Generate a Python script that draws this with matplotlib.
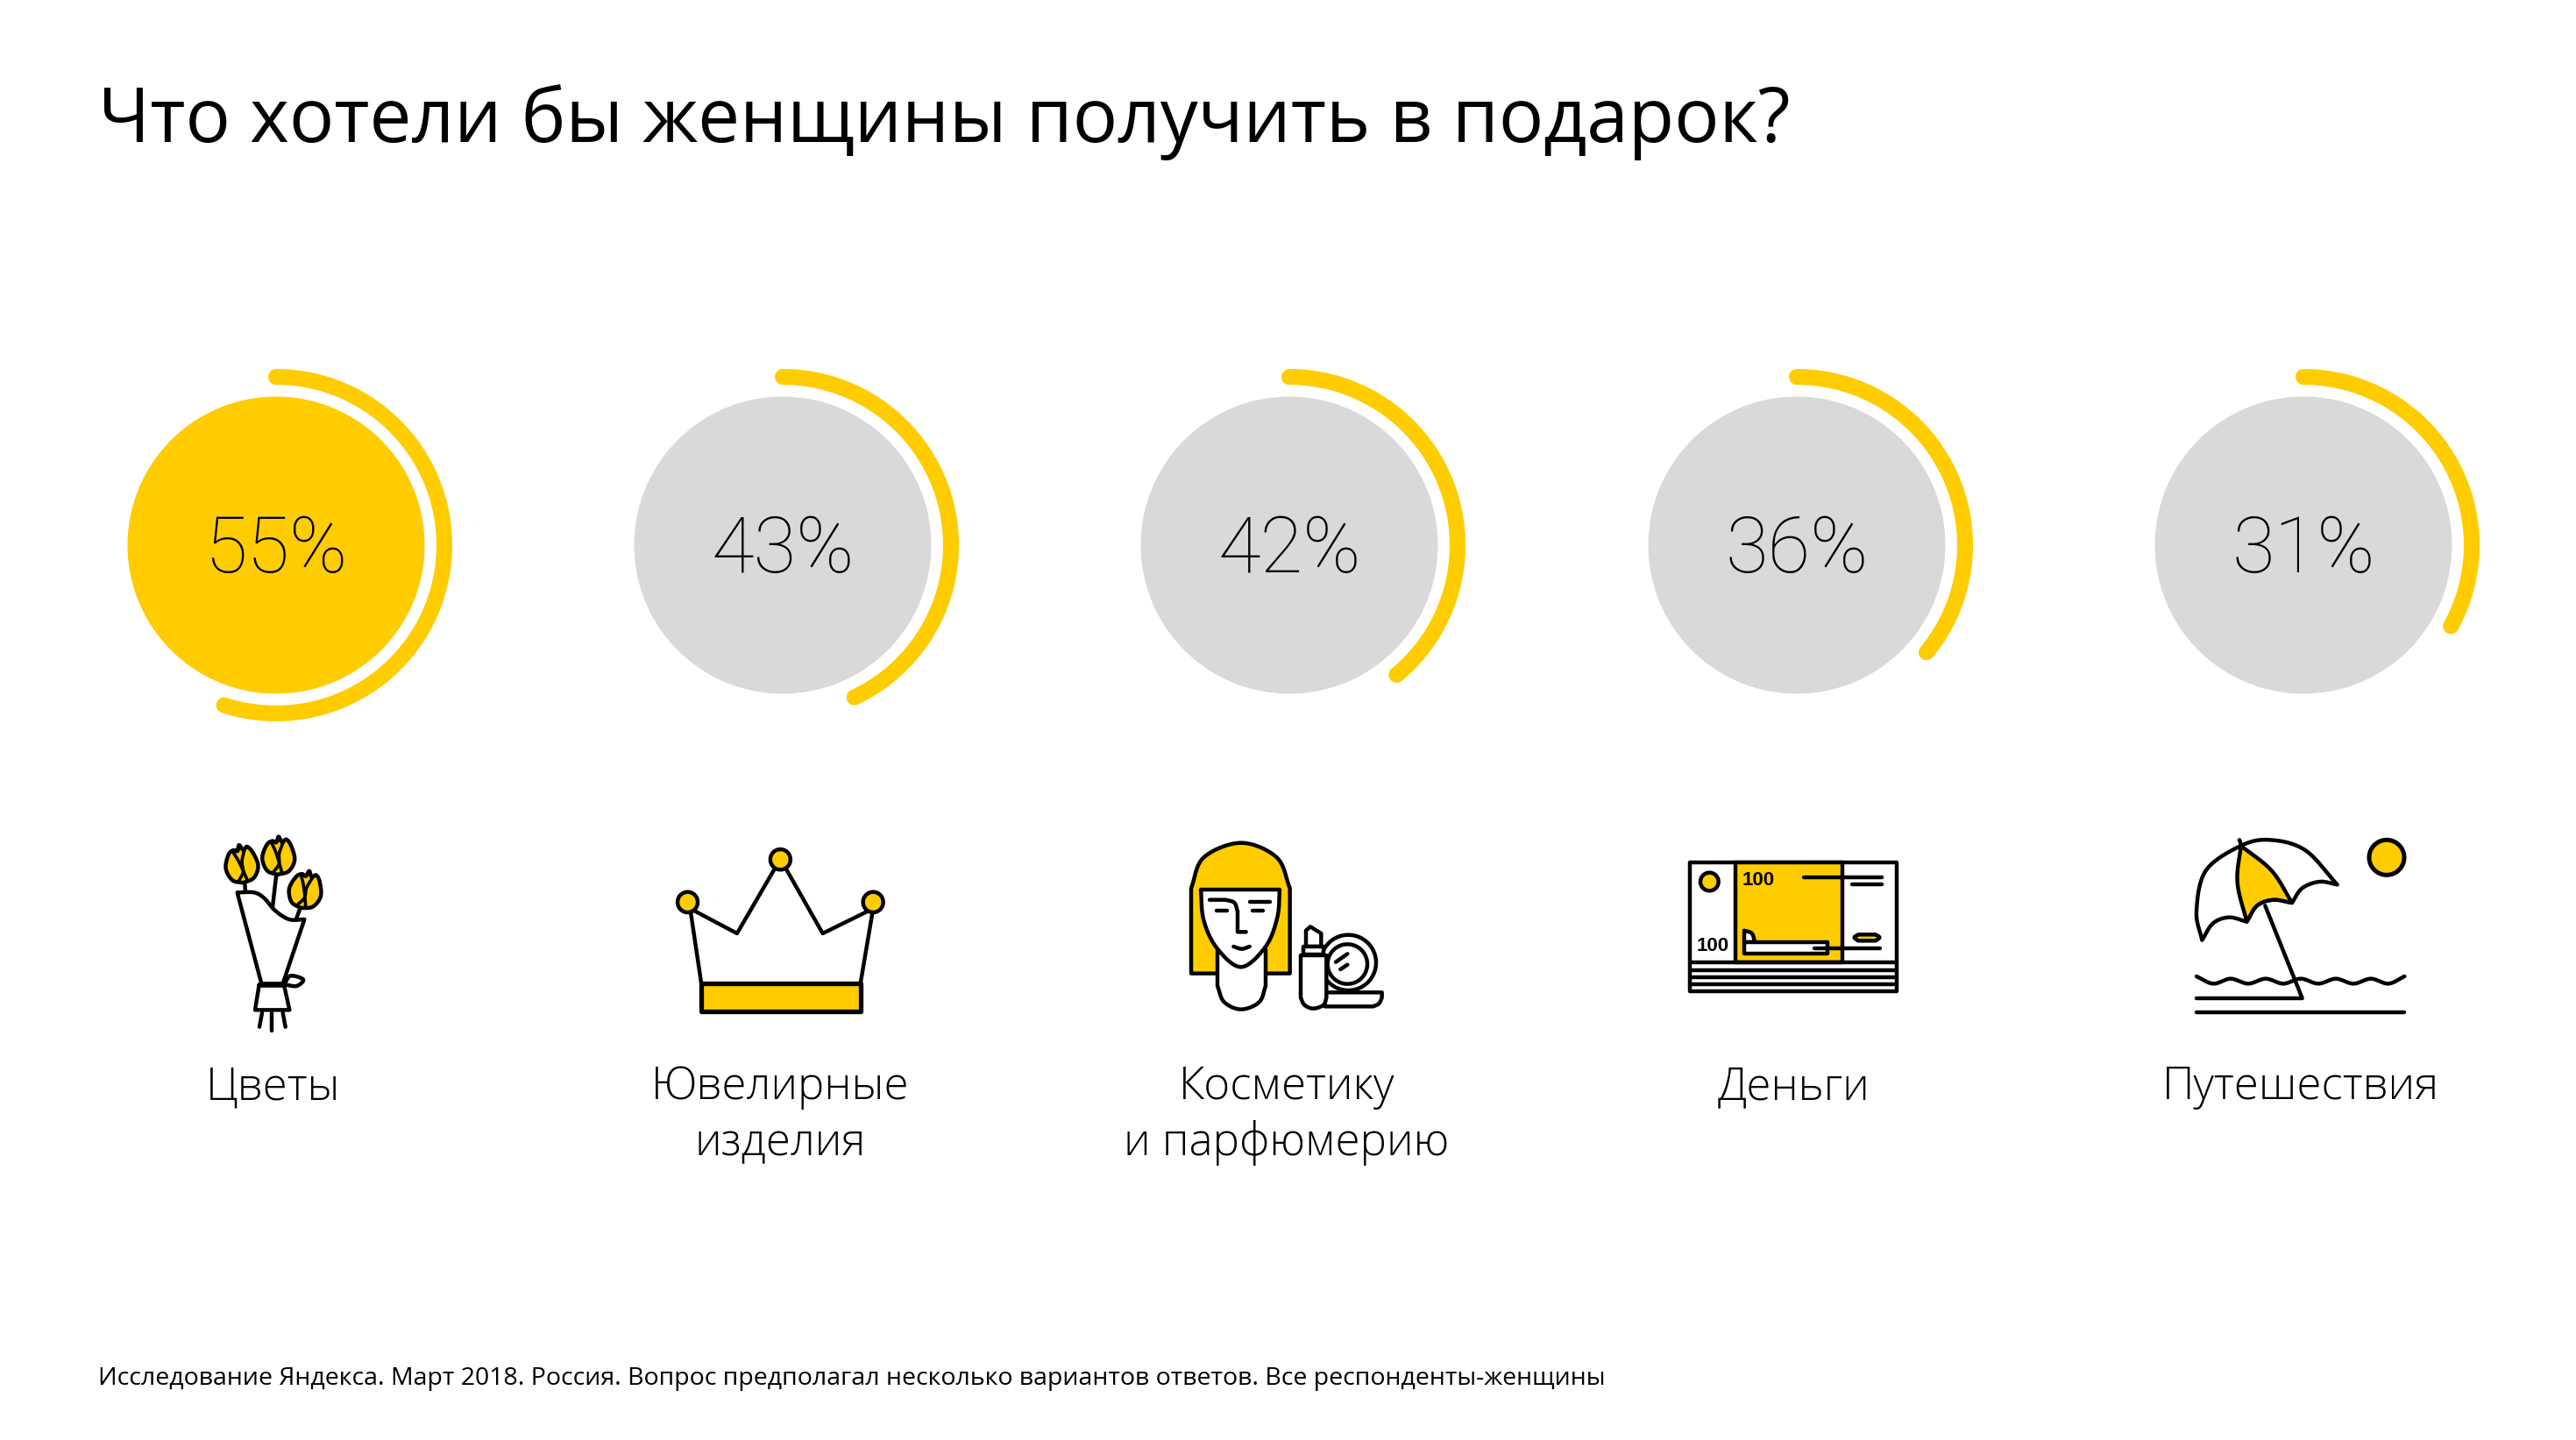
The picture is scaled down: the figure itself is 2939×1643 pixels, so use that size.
import numpy as np
import matplotlib
matplotlib.use("Agg")
import matplotlib.pyplot as plt
from matplotlib.patches import Circle, Polygon

W, H = 2939, 1643
YELLOW = "#FFCC00"
GREY = "#D9D9D9"
FONT = "Open Sans"

title = "Что хотели бы женщины получить в подарок?"
footnote = ("Исследование Яндекса. Март 2018. Россия. Вопрос предполагал несколько "
            "вариантов ответов. Все респонденты-женщины")
categories = ["Цветы", "Ювелирные\nизделия", "Косметику\nи парфюмерию", "Деньги", "Путешествия"]
values = [55, 43, 42, 36, 31]
# the drawn rings do not follow the numbers exactly, these are read off the picture
ring_shares = [55, 43, 39, 36, 33]

centers_x = [315, 893, 1471, 2050, 2628]
CENTER_Y = 622
R_DISC = 169.5
R_RING = 192

fig = plt.figure(figsize=(W / 100, H / 100), dpi=100)
ax = fig.add_axes([0, 0, 1, 1])
ax.set_xlim(0, W)
ax.set_ylim(H, 0)
ax.axis("off")

ICON_LW = 3.2
z = [10]


# ── Icon helpers ─────────────────────────────────────────────────────────────

def curve(pts, n=14):
    # catmull-rom through the points
    p = np.array(pts, dtype=float)
    p = np.vstack([2 * p[0] - p[1], p, 2 * p[-1] - p[-2]])
    out = []
    for i in range(1, len(p) - 2):
        for t in np.linspace(0, 1, n, endpoint=False):
            out.append(0.5 * (2 * p[i] + (p[i + 1] - p[i - 1]) * t
                              + (2 * p[i - 1] - 5 * p[i] + 4 * p[i + 1] - p[i + 2]) * t ** 2
                              + (3 * p[i] - p[i - 1] - 3 * p[i + 1] + p[i + 2]) * t ** 3))
    out.append(p[-2])
    return np.array(out)


def circle_pts(cx, cy, r, n=60):
    a = np.linspace(0, 2 * np.pi, n)
    return np.column_stack([cx + r * np.cos(a), cy + r * np.sin(a)])


def shape(pts, org, fill=None, lw=ICON_LW, closed=False, sx=3.0, sy=3.0):
    # pts are in zoomed picture units, org is the top left corner of that crop
    pts = np.asarray(pts, dtype=float) / [sx, sy] + org
    z[0] += 1
    if fill is not None or closed:
        ax.add_patch(Polygon(pts, closed=True, facecolor=fill or "none", edgecolor="black",
                             linewidth=lw, joinstyle="round", zorder=z[0]))
    else:
        ax.plot(pts[:, 0], pts[:, 1], color="black", lw=lw, solid_capstyle="round",
                solid_joinstyle="round", zorder=z[0])


def tulip(cx, cy, angle, org):
    a = np.radians(angle)
    rot = np.array([[np.cos(a), -np.sin(a)], [np.sin(a), np.cos(a)]])
    outline = curve([(0, 62), (-36, 50), (-55, 8), (-42, -38), (-24, -52), (-10, -48), (-3, -68),
                     (10, -50), (24, -60), (42, -38), (56, 8), (38, 48), (0, 62)])
    left = curve([(-27, -48), (-10, -15), (5, 25), (15, 55)])
    right = curve([(13, -48), (2, -10), (3, 25), (-15, 55)])
    c = np.array([cx, cy])
    shape(outline @ rot.T + c, org, fill=YELLOW)
    shape(left @ rot.T + c, org, lw=2.6)
    shape(right @ rot.T + c, org, lw=2.6)


# ── Icons ────────────────────────────────────────────────────────────────────

def draw_flowers():
    org = (230, 945)
    shape([(148, 190), (150, 218)], org)
    shape([(255, 165), (243, 270)], org)
    shape([(335, 280), (325, 308)], org)
    tulip(137, 125, -5, org)
    tulip(263, 97, 3, org)
    tulip(355, 213, 14, org)
    top = curve([(352, 312), (300, 312), (252, 282), (215, 240), (180, 220), (122, 220)])
    shape(np.vstack([[(205, 532), (278, 532)], top]), org, fill="white")
    shape(curve([(285, 530), (305, 505), (348, 518), (325, 540), (285, 535)]), org)
    shape([(195, 622), (183, 622), (197, 536), (282, 536), (301, 622)], org, fill="white")
    shape([(197, 536), (282, 536)], org, lw=4)
    shape([(207, 632), (198, 680)], org)
    shape([(240, 632), (240, 692)], org)
    shape([(278, 632), (287, 680)], org)


def draw_crown():
    org = (198, 930)
    kw = dict(sx=1.739, sy=3.0)
    shape([(1047, 575), (1025, 320), (1118, 405), (1204, 150), (1288, 405), (1388, 320), (1363, 575)],
          org, **kw)
    shape([(1047, 575), (1363, 575), (1363, 672), (1047, 672)], org, fill=YELLOW, lw=3.8, **kw)
    for bx, by in [(1020, 298), (1204, 152), (1388, 298)]:
        a = np.linspace(0, 2 * np.pi, 40)
        shape(np.column_stack([bx + 20 * np.cos(a), by + 35 * np.sin(a)]), org, fill=YELLOW, **kw)


def draw_woman():
    org = (1340, 950)
    hair = curve([(57, 190), (100, 85), (228, 35), (350, 85), (395, 190)])
    shape(np.vstack([[(57, 482)], hair, [(395, 482)]]), org, fill=YELLOW)
    neck = curve([(147, 525), (170, 580), (228, 605), (290, 580), (312, 525)])
    shape(np.vstack([[(147, 400)], neck, [(312, 400)]]), org, fill="white")
    face = curve([(360, 195), (352, 290), (312, 390), (228, 460), (145, 395), (100, 300), (90, 195)])
    shape(face, org, fill="white")
    shape(np.vstack([[(120, 230), (175, 230)], curve([(175, 230), (205, 240), (216, 270)]),
                     [(216, 340), (245, 340)]]), org)
    shape([(257, 237), (327, 237)], org)
    shape([(143, 266), (180, 266)], org)
    shape([(268, 266), (303, 266)], org)
    shape(curve([(202, 390), (230, 398), (257, 390)]), org)
    # compact and lipstick
    shape(circle_pts(595, 445, 95), org, fill="white")
    shape(circle_pts(592, 450, 68), org, fill="white")
    shape([(552, 443), (592, 415)], org)
    shape([(568, 468), (592, 452)], org)
    base = curve([(710, 565), (700, 585), (680, 595)])
    shape(np.vstack([[(515, 547), (710, 547)], base, [(515, 595)]]), org, fill="white")
    tip = [(450, 390), (450, 335), (465, 322), (502, 345), (502, 390)]
    shape(tip, org, fill="white")
    body = curve([(520, 565), (510, 590), (475, 602), (445, 590), (432, 565)])
    shape(np.vstack([[(520, 420)], body, [(432, 420)]]), org, fill="white")
    shape([(442, 390), (510, 390), (510, 418), (442, 418)], org, fill="white")


def draw_money():
    org = (1920, 970)
    shape([(24, 42), (732, 42), (732, 483), (24, 483)], org, fill="white")
    shape([(180, 42), (547, 42), (547, 385), (180, 385)], org, fill=YELLOW)
    for y in [385, 411, 435, 459]:
        shape([(24, y), (732, y)], org)
    shape(circle_pts(91, 108, 31), org, fill=YELLOW)
    shape([(413, 92), (680, 92)], org)
    shape([(580, 116), (680, 116)], org)
    shape(np.vstack([[(600, 289), (660, 289)], curve([(660, 289), (673, 299), (660, 310)]),
                     [(600, 310)], curve([(600, 310), (587, 299), (600, 289)])]), org, fill=YELLOW)
    shape(np.vstack([[(210, 315), (210, 275)], curve([(210, 275), (236, 285), (247, 315)])]), org, fill="white")
    shape([(210, 315), (495, 315), (495, 353), (210, 353)], org, fill="white")
    shape([(450, 335), (675, 335)], org)
    for tx, ty in [(258, 103), (103, 328)]:
        ax.text(1920 + tx / 3, 970 + ty / 3, "100", ha="center", va="center", fontsize=16,
                fontweight="bold", family="Liberation Sans", zorder=z[0] + 1)


def draw_beach():
    org = (2450, 930)
    rim = curve([(187, 428), (168, 330), (200, 190), (320, 105), (420, 85), (540, 120), (650, 238)])
    scal = np.vstack([curve([(650, 238), (590, 228), (530, 250), (495, 300)]),
                      curve([(495, 300), (430, 290), (375, 310), (340, 365)]),
                      curve([(340, 365), (280, 350), (225, 370), (187, 428)])])
    shape(np.vstack([rim, scal]), org, fill="white")
    panel = np.vstack([curve([(320, 105), (308, 230), (340, 365)]),
                       curve([(340, 365), (375, 310), (430, 290), (495, 300)]),
                       curve([(495, 300), (425, 190), (320, 105)])])
    shape(panel, org, fill=YELLOW)
    shape([(315, 85), (322, 105)], org)
    shape([(168, 627), (530, 627), (403, 310)], org)
    shape([(168, 675), (880, 675)], org)
    shape(curve([(168, 552), (225, 577), (285, 560), (345, 577), (405, 560), (465, 577), (525, 560),
                 (585, 577), (645, 560), (705, 577), (765, 560), (825, 577), (880, 552)]), org)
    shape(circle_pts(819, 145, 60), org, fill=YELLOW, lw=3.6)


# ── Chart ────────────────────────────────────────────────────────────────────

ax.text(112, 162, title, fontsize=61.6, family=FONT, va="baseline", color="black")
ax.text(112, 1580, footnote, fontsize=20.5, family=FONT, va="baseline", color="black")

for i, (cx, cat, val, share) in enumerate(zip(centers_x, categories, values, ring_shares)):
    ax.add_patch(Circle((cx, CENTER_Y), R_DISC, facecolor=YELLOW if i == 0 else GREY,
                        edgecolor="none", zorder=2))
    ang = np.linspace(0, 2 * np.pi * share / 100, 200)
    ax.plot(cx + R_RING * np.sin(ang), CENTER_Y - R_RING * np.cos(ang), color=YELLOW, lw=13,
            solid_capstyle="round", zorder=3)
    ax.text(cx, CENTER_Y + 31, f"{val}%", fontsize=64, family="Roboto", fontweight="light",
            ha="center", va="baseline", zorder=4)
    for j, line in enumerate(cat.split("\n")):
        ax.text(cx - 3, 1254 + 64 * j, line, fontsize=36.8, family=FONT, fontweight="light",
                ha="center", va="baseline")

draw_flowers()
draw_crown()
draw_woman()
draw_money()
draw_beach()

fig.savefig("out.png", dpi=100, facecolor="white")
